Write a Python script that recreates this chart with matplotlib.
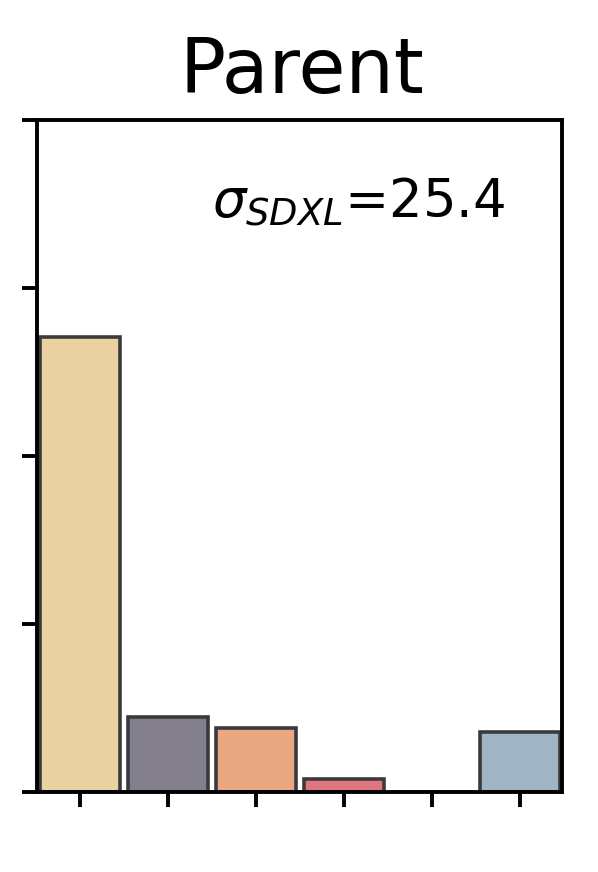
import matplotlib
matplotlib.use("Agg")
import matplotlib.pyplot as plt

categories = ["c1", "c2", "c3", "c4", "c5", "c6"]
values = [0.677, 0.112, 0.095, 0.019, 0.0, 0.089]
colors = ["#E9D1A1", "#837F8C", "#EAA882", "#E07680", "#FFFFFF", "#A0B4C3"]
yticks = [0, 0.25, 0.5, 0.75, 1.0]
title = "Parent"
annotation = r"$\sigma_{SDXL}$=25.4"

fig = plt.figure(figsize=(5.98, 8.72), dpi=100)
ax = fig.add_axes([37/598, 1-792/872, (562-37)/598, (792-120)/872])

x = list(range(len(categories)))
ax.bar(x, values, width=0.91, color=colors, edgecolor="#3a3a3a", linewidth=2.6)

ax.set_xlim(-0.49, 5.48)
ax.set_ylim(0, 1.0)
ax.set_yticks(yticks)
ax.set_xticks(x)
ax.set_xticklabels([])
ax.set_yticklabels([])
for s in ax.spines.values():
    s.set_linewidth(2.8)
ax.tick_params(length=11, width=2.8)

ax.set_title(title, fontsize=55, pad=19.5, x=0.505)
ax.text(0.892, 0.854, annotation, transform=ax.transAxes, ha="right", va="baseline", fontsize=38)

fig.savefig("out.png", dpi=100)
